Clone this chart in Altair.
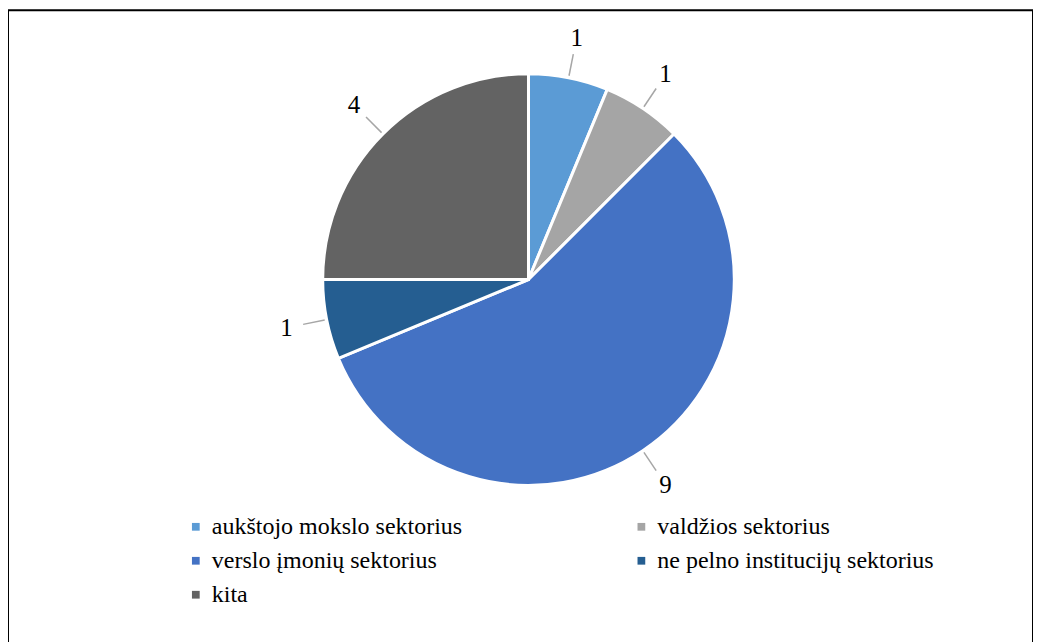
import altair as alt
import pandas as pd

categories = ["aukštojo mokslo sektorius", "valdžios sektorius", "verslo įmonių sektorius",
              "ne pelno institucijų sektorius", "kita"]
values = [1, 1, 9, 1, 4]
colors = ["#5B9BD5", "#A5A5A5", "#4472C4", "#255E91", "#636363"]

df = pd.DataFrame({"category": categories, "value": values, "order": list(range(len(values)))})

CX, CY, R = 521, 269.5, 206
R1, R2, RT = 208, 230, 247
SERIF = "Liberation Serif"

base = alt.Chart(df)

pie = base.mark_arc(outerRadius=R, stroke="white", strokeWidth=3).encode(
    theta=alt.Theta("value:Q", stack=True),
    order=alt.Order("order:Q"),
    color=alt.Color("category:N", scale=alt.Scale(domain=categories, range=colors),
                    legend=alt.Legend(title=None, orient="none", legendX=176, legendY=505,
                                      direction="horizontal",
                                      columns=2, columnPadding=167, rowPadding=10,
                                      symbolType="square", symbolSize=60, symbolStrokeWidth=0,
                                      labelFont=SERIF, labelFontSize=24,
                                      labelColor="#000000", labelOffset=4, padding=0,
                                      labelLimit=500)),
    x=alt.value(CX), y=alt.value(CY),
)

geo = base.transform_joinaggregate(total="sum(value)").transform_window(
    cum="sum(value)", sort=[alt.SortField("order")]
).transform_calculate(
    a="2*PI*(datum.cum - datum.value/2)/datum.total"
).transform_calculate(
    x1=f"{CX} + {R1}*sin(datum.a)", y1=f"{CY} - {R1}*cos(datum.a)",
    x2=f"{CX} + {R2}*sin(datum.a)", y2=f"{CY} - {R2}*cos(datum.a)",
    xt=f"{CX} + {RT}*sin(datum.a)", yt=f"{CY} - {RT}*cos(datum.a)",
)

leaders = geo.mark_rule(color="#A6A6A6", strokeWidth=1.5).encode(
    x=alt.X("x1:Q", scale=None), y=alt.Y("y1:Q", scale=None),
    x2="x2:Q", y2="y2:Q",
)

labels = geo.mark_text(font=SERIF, fontSize=25, color="#000000",
                       align="center", baseline="middle").encode(
    x=alt.X("xt:Q", scale=None), y=alt.Y("yt:Q", scale=None),
    text="value:Q",
)

chart = alt.layer(pie, leaders, labels).properties(
    width=1026, height=640,
    autosize=alt.AutoSizeParams(type="none"),
    padding={"left": 0, "top": 2, "right": 0, "bottom": 0},
    background="white",
).configure_view(stroke="#000000", strokeWidth=2).configure_legend(
    labelFont=SERIF, labelFontSize=24, labelColor="#000000"
)

chart.save("out.html", embed_options={"renderer": "svg", "actions": False})
